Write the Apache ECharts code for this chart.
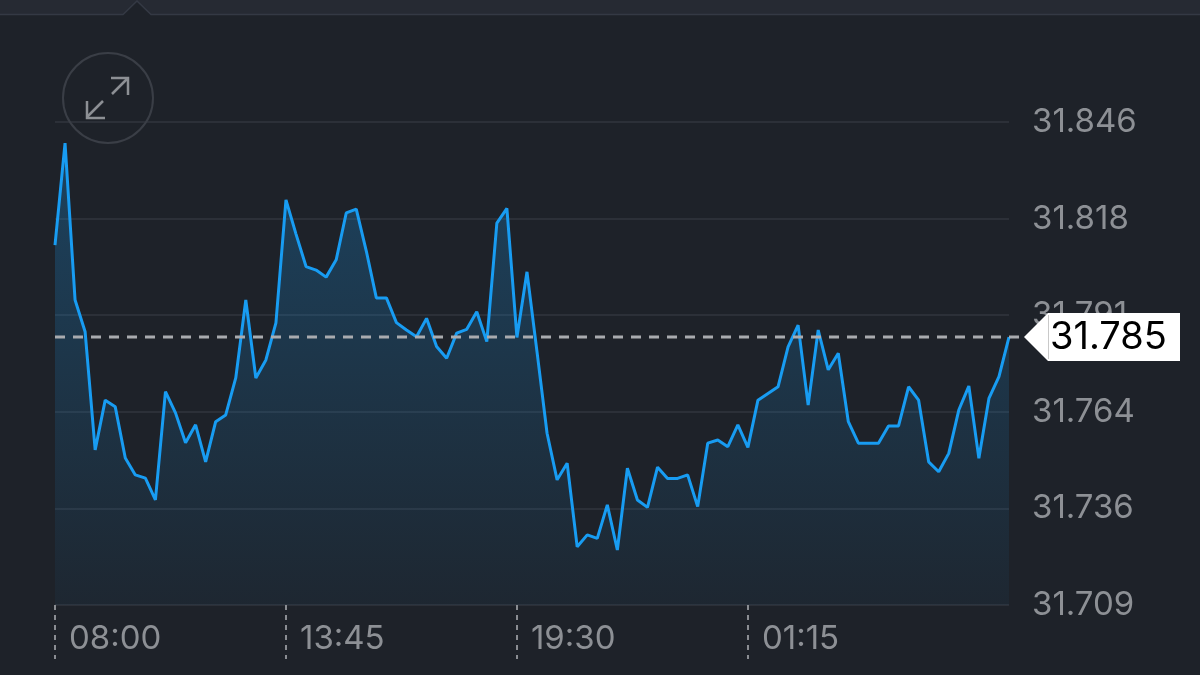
<!DOCTYPE html>
<html>
<head>
<meta charset="utf-8">
<script src="https://cdn.jsdelivr.net/npm/echarts@6/dist/echarts.min.js"></script>
<style>
html,body{margin:0;padding:0;background:#1e2229;}
#chart{width:1200px;height:675px;}
</style>
</head>
<body>
<div id="chart"></div>
<script>
// ---- data ----
var startTime = '08:00';
var stepMinutes = 15;
var prices = [
  31.8111, 31.8400, 31.7955, 31.7865, 31.7530, 31.7671, 31.7652, 31.7507, 31.7459, 31.7450,
  31.7388, 31.7695, 31.7635, 31.7550, 31.7601, 31.7496, 31.7610, 31.7629, 31.7734, 31.7955,
  31.7734, 31.7785, 31.7890, 31.8239, 31.8142, 31.8050, 31.8040, 31.8020, 31.8069, 31.8202,
  31.8213, 31.8094, 31.7961, 31.7961, 31.7891, 31.7870, 31.7851, 31.7903, 31.7823, 31.7790,
  31.7861, 31.7872, 31.7922, 31.7837, 31.8173, 31.8215, 31.7849, 31.8035, 31.7808, 31.7577,
  31.7445, 31.7492, 31.7255, 31.7289, 31.7279, 31.7374, 31.7246, 31.7478, 31.7388, 31.7367,
  31.7481, 31.7449, 31.7449, 31.7459, 31.7369, 31.7549, 31.7558, 31.7539, 31.7601, 31.7537,
  31.7671, 31.7690, 31.7709, 31.7822, 31.7884, 31.7657, 31.7870, 31.7757, 31.7804, 31.7610,
  31.7549, 31.7549, 31.7549, 31.7598, 31.7598, 31.7709, 31.7671, 31.7496, 31.7468, 31.7520,
  31.7643, 31.7711, 31.7506, 31.7676, 31.7738, 31.7850
];
var currentPrice = 31.785;
var currentLabel = '31.785';
var xTickLabels = ['08:00', '13:45', '19:30', '01:15'];
var yTickLabels = ['31.709', '31.736', '31.764', '31.791', '31.818', '31.846'];
var yMin = 31.709, yMax = 31.846, yInterval = 0.0274;

// category labels (time of each sample)
var categories = [];
(function(){
  var p = startTime.split(':');
  var m0 = (+p[0]) * 60 + (+p[1]);
  for (var i = 0; i < prices.length; i++) {
    var m = (m0 + i * stepMinutes) % 1440;
    var h = Math.floor(m / 60), mm = m % 60;
    categories.push((h < 10 ? '0' : '') + h + ':' + (mm < 10 ? '0' : '') + mm);
  }
})();

var BG = '#1e2229';
var FONT = 'Inter, "Liberation Sans", sans-serif';
var chart = echarts.init(document.getElementById('chart'), null, {renderer: 'canvas'});

function showTick(idx) { return xTickLabels.indexOf(categories[idx]) >= 0; }

var option = {
  backgroundColor: BG,
  animation: false,
  grid: {left: 55, right: 191, top: 122, bottom: 70, containLabel: false},
  xAxis: {
    type: 'category',
    data: categories,
    boundaryGap: false,
    axisLine: {show: false},
    axisTick: {
      show: true,
      interval: function(idx){ return showTick(idx); },
      length: 54,
      lineStyle: {color: '#8a8d92', width: 2, type: [5, 5]}
    },
    axisLabel: {
      interval: function(idx){ return showTick(idx); },
      align: 'left',
      padding: [0, 0, 0, 14],
      margin: 18,
      fontSize: 33,
      fontFamily: FONT,
      color: '#8d9095'
    },
    splitLine: {show: false}
  },
  yAxis: {
    type: 'value',
    position: 'right',
    min: yMin,
    max: yMax,
    interval: yInterval,
    axisLine: {show: false},
    axisTick: {show: false},
    axisLabel: {
      margin: 23,
      fontSize: 33,
      fontFamily: FONT,
      color: '#8d9095',
      formatter: function(v){
        var k = Math.round((v - yMin) / yInterval);
        return yTickLabels[k] || '';
      }
    },
    splitLine: {lineStyle: {color: '#2c3038', width: 2}}
  },
  series: [{
    type: 'line',
    data: prices,
    symbol: 'none',
    smooth: false,
    lineStyle: {color: '#189cf2', width: 3},
    areaStyle: {
      color: new echarts.graphic.LinearGradient(0, 0, 0, 1, [
        {offset: 0, color: 'rgba(24,156,242,0.38)'},
        {offset: 1, color: 'rgba(24,156,242,0.06)'}
      ])
    }
  }]
};
chart.setOption(option);

// decorations: top strip, expand icon, current-price line and tag (positioned via the axis scale)
var yPx = chart.convertToPixel({yAxisIndex: 0}, currentPrice);
var xStart = chart.convertToPixel({xAxisIndex: 0}, 0);
chart.setOption({
  graphic: [
    {type: 'rect', z: 100, shape: {x: 0, y: 0, width: 1200, height: 15}, style: {fill: '#262a33'}},
    {type: 'polygon', z: 101, shape: {points: [[123, 15], [137, 1], [151, 15]]}, style: {fill: BG}},
    {type: 'polyline', z: 102, shape: {points: [[0, 14.5], [123, 14.5], [137, 1], [151, 14.5], [1200, 14.5]]},
      style: {stroke: '#343944', lineWidth: 1.5, fill: null}},
    {type: 'circle', z: 100, shape: {cx: 108, cy: 98, r: 45}, style: {fill: 'none', stroke: '#3a3e46', lineWidth: 2}},
    {type: 'polyline', z: 100, shape: {points: [[112, 94], [128, 78]]}, style: {stroke: '#8d9095', lineWidth: 2.5, fill: null}},
    {type: 'polyline', z: 100, shape: {points: [[111, 78], [128, 78], [128, 95]]}, style: {stroke: '#8d9095', lineWidth: 2.5, fill: null}},
    {type: 'polyline', z: 100, shape: {points: [[87, 117], [103, 101]]}, style: {stroke: '#8d9095', lineWidth: 2.5, fill: null}},
    {type: 'polyline', z: 100, shape: {points: [[87, 101], [87, 118], [105, 118]]}, style: {stroke: '#8d9095', lineWidth: 2.5, fill: null}},
    // dashed current-price line
    {type: 'line', z: 99, shape: {x1: xStart, y1: yPx, x2: 1024, y2: yPx}, style: {stroke: '#a9abaf', lineWidth: 3, lineDash: [10, 8]}},
    {type: 'polygon', z: 110, shape: {points: [[1024, yPx], [1048, yPx - 24], [1180, yPx - 24], [1180, yPx + 24], [1048, yPx + 24]]},
      style: {fill: '#ffffff'}},
    {type: 'line', z: 111, shape: {x1: 1048.5, y1: yPx - 22, x2: 1048.5, y2: yPx + 22}, style: {stroke: '#c9c9c9', lineWidth: 1}},
    {type: 'text', z: 112, x: 1050, y: yPx + 1, style: {text: currentLabel, fill: '#000000', fontSize: 38, fontFamily: FONT,
      textVerticalAlign: 'middle', verticalAlign: 'middle', textAlign: 'left', align: 'left'}}
  ]
});
</script>
</body>
</html>
